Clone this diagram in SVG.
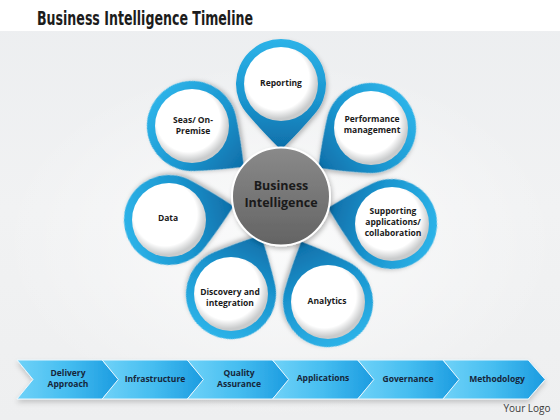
<svg xmlns="http://www.w3.org/2000/svg" xmlns:xlink="http://www.w3.org/1999/xlink" width="560" height="420" viewBox="0 0 560 420">
  <defs>
    <style>
      .title { font-family: "DejaVu Sans Condensed", "Liberation Sans", sans-serif; font-weight: bold; font-size: 20px; fill: #1c1c1c; }
      .lbl { font-family: "Open Sans", "Liberation Sans", sans-serif; font-weight: 700; font-size: 8.5px; fill: #1a1a1a; text-anchor: middle; }
      .clbl { font-family: "Open Sans", "Liberation Sans", sans-serif; font-weight: 700; font-size: 8.5px; fill: #16263a; text-anchor: middle; }
      .center { font-family: "Open Sans", "Liberation Sans", sans-serif; font-weight: 700; font-size: 12.5px; fill: #1a1a1a; text-anchor: middle; }
      .logo { font-family: "Open Sans", "Liberation Sans", sans-serif; font-size: 10px; fill: #3a3a3a; text-anchor: middle; }
      .pin { fill: url(#pinGrad); filter: url(#shadow); }
      .disc { fill: url(#discGrad); }
      .chev { fill: url(#chevGrad); stroke: #e8f6fd; stroke-width: 1; }
    </style>
    <linearGradient id="bgGrad" x1="0" y1="0" x2="0" y2="1">
      <stop offset="0" stop-color="#eceef0"/>
      <stop offset="0.5" stop-color="#f1f2f3"/>
      <stop offset="1" stop-color="#eeeff0"/>
    </linearGradient>
    <radialGradient id="bgGlow" cx="0.5" cy="0.5" r="0.5">
      <stop offset="0" stop-color="#ffffff" stop-opacity="0.7"/>
      <stop offset="1" stop-color="#ffffff" stop-opacity="0"/>
    </radialGradient>
    <linearGradient id="pinGrad" x1="0" y1="0" x2="0" y2="1">
      <stop offset="0" stop-color="#2db3e8"/>
      <stop offset="0.55" stop-color="#1a95cf"/>
      <stop offset="1" stop-color="#0f6ea8"/>
    </linearGradient>
    <radialGradient id="discGrad" cx="0.45" cy="0.42" r="0.55">
      <stop offset="0" stop-color="#ffffff"/>
      <stop offset="0.78" stop-color="#ffffff"/>
      <stop offset="1" stop-color="#c9cbcc"/>
    </radialGradient>
    <linearGradient id="coreGrad" x1="0" y1="0" x2="0" y2="1">
      <stop offset="0" stop-color="#8a8a8a"/>
      <stop offset="1" stop-color="#636363"/>
    </linearGradient>
    <linearGradient id="chevGrad" x1="0" y1="0" x2="1" y2="0">
      <stop offset="0" stop-color="#6fd2f8"/>
      <stop offset="0.5" stop-color="#45bdf0"/>
      <stop offset="1" stop-color="#1b9be0"/>
    </linearGradient>
    <filter id="shadow" x="-30%" y="-30%" width="160%" height="160%">
      <feDropShadow dx="1.5" dy="2.5" stdDeviation="2" flood-color="#000" flood-opacity="0.25"/>
    </filter>
    <filter id="barShadow" x="-5%" y="-30%" width="110%" height="180%">
      <feDropShadow dx="0" dy="3" stdDeviation="2.5" flood-color="#000" flood-opacity="0.18"/>
    </filter>
    <path id="pinShape" d="M 0 66 Q 19 47 32.9 30.7 A 45 45 0 1 0 -32.9 30.7 Q -19 47 0 66 Z"/>
    <path id="chevShape" d="M 0 0 L 85.2 0 L 102.2 19.5 L 85.2 39 L 0 39 L 16 19.5 Z"/>
  </defs>

  <!-- background -->
  <rect x="0" y="0" width="560" height="420" fill="url(#bgGrad)"/>
  <rect x="0" y="60" width="560" height="360" fill="url(#bgGlow)"/>
  <rect x="0" y="0" width="560" height="31" fill="#ffffff"/>

  <text class="title" x="37" y="25" textLength="216" lengthAdjust="spacingAndGlyphs">Business Intelligence Timeline</text>

  <!-- petals -->
  <g id="node-reporting">
    <g transform="translate(281,84) rotate(0)"><use href="#pinShape" class="pin"/></g>
    <circle class="disc" cx="281" cy="84" r="37"/>
    <text class="lbl" x="281" y="85.5">Reporting</text>
  </g>
  <g id="node-performance">
    <g transform="translate(371,128) rotate(52.9)"><use href="#pinShape" class="pin"/></g>
    <circle class="disc" cx="371" cy="128" r="37"/>
    <text class="lbl" x="372" y="122">Performance</text>
    <text class="lbl" x="372" y="133">management</text>
  </g>
  <g id="node-supporting">
    <g transform="translate(392,224) rotate(104.2)"><use href="#pinShape" class="pin"/></g>
    <circle class="disc" cx="392" cy="224" r="37"/>
    <text class="lbl" x="393" y="214">Supporting</text>
    <text class="lbl" x="393" y="225">applications/</text>
    <text class="lbl" x="393" y="236">collaboration</text>
  </g>
  <g id="node-analytics">
    <g transform="translate(328,302) rotate(156.1)"><use href="#pinShape" class="pin"/></g>
    <circle class="disc" cx="328" cy="302" r="37"/>
    <text class="lbl" x="327" y="304">Analytics</text>
  </g>
  <g id="node-discovery">
    <g transform="translate(231,294) rotate(207)"><use href="#pinShape" class="pin"/></g>
    <circle class="disc" cx="231" cy="294" r="37"/>
    <text class="lbl" x="230" y="295">Discovery and</text>
    <text class="lbl" x="230" y="306">integration</text>
  </g>
  <g id="node-data">
    <g transform="translate(169,220) rotate(-102.1)"><use href="#pinShape" class="pin"/></g>
    <circle class="disc" cx="169" cy="220" r="37"/>
    <text class="lbl" x="168" y="221">Data</text>
  </g>
  <g id="node-seas">
    <g transform="translate(192,126) rotate(-51.8)"><use href="#pinShape" class="pin"/></g>
    <circle class="disc" cx="192" cy="126" r="37"/>
    <text class="lbl" x="193" y="123">Seas/ On-</text>
    <text class="lbl" x="193" y="134">Premise</text>
  </g>

  <!-- center -->
  <g id="node-center">
    <circle cx="281" cy="196.5" r="49" fill="url(#coreGrad)" stroke="#ffffff" stroke-width="2" filter="url(#shadow)"/>
    <text class="center" x="281" y="190">Business</text>
    <text class="center" x="281" y="207">Intelligence</text>
  </g>

  <!-- timeline chevrons -->
  <g id="timeline" filter="url(#barShadow)">
    <g id="chev-1"><use href="#chevShape" class="chev" transform="translate(17,360)"/></g>
    <g id="chev-2"><use href="#chevShape" class="chev" transform="translate(102.2,360)"/></g>
    <g id="chev-3"><use href="#chevShape" class="chev" transform="translate(187.4,360)"/></g>
    <g id="chev-4"><use href="#chevShape" class="chev" transform="translate(272.6,360)"/></g>
    <g id="chev-5"><use href="#chevShape" class="chev" transform="translate(357.8,360)"/></g>
    <g id="chev-6"><use href="#chevShape" class="chev" transform="translate(443,360)"/></g>
  </g>
  <g id="timeline-labels">
    <text class="clbl" x="68" y="376">Delivery</text>
    <text class="clbl" x="68" y="387">Approach</text>
    <text class="clbl" x="155" y="382">Infrastructure</text>
    <text class="clbl" x="239" y="376">Quality</text>
    <text class="clbl" x="239" y="387">Assurance</text>
    <text class="clbl" x="323" y="381">Applications</text>
    <text class="clbl" x="408" y="382">Governance</text>
    <text class="clbl" x="497" y="382">Methodology</text>
  </g>

  <text class="logo" x="527" y="412">Your Logo</text>
</svg>
